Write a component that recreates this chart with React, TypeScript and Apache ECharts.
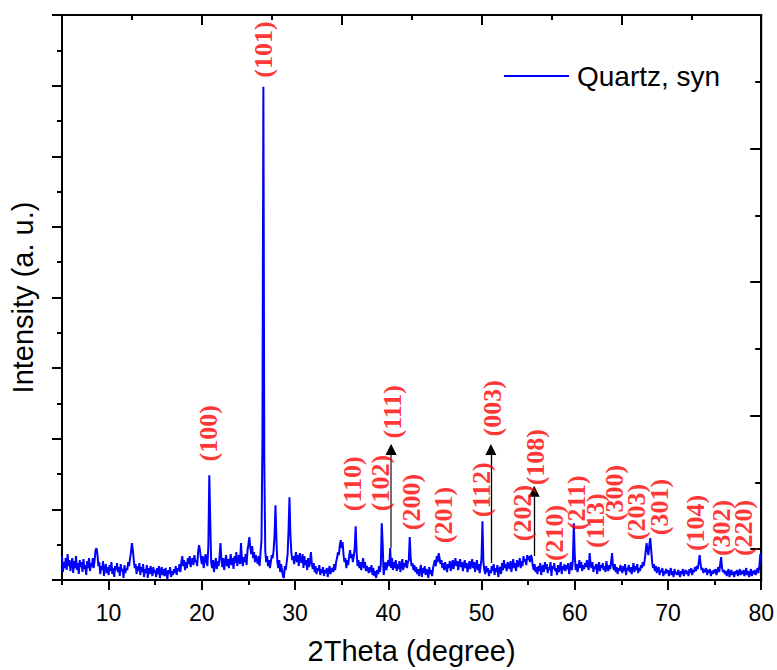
import React, { useEffect, useRef } from "react";
import * as echarts from "echarts";

// 2θ grid of the scan: 5.0° to 80.0° every 0.1°
const START_2THETA = 5;
const STEP_2THETA = 0.1;

// Intensity (a.u.), one row per degree (x.0 ... x.9)
const intensity: number[] = [
  24, 8, 18, 12, 22, 10, 26, 14, 20, 9, // 5
  16, 22, 7, 19, 12, 24, 10, 17, 6, 20, // 6
  13, 18, 8, 21, 11, 15, 5, 19, 12, 22, // 7
  9, 17, 13, 22, 12, 20, 30, 32, 26, 14, // 8
  18, 6, 14, 10, 19, 4, 12, 16, 7, 13, // 9
  5, 15, 9, 18, 6, 12, 3, 14, 10, 17, // 10
  8, 13, 4, 16, 9, 11, 2, 15, 7, 12, // 11
  10, 18, 14, 22, 28, 37, 30, 20, 12, 16, // 12
  6, 14, 9, 17, 5, 13, 8, 16, 3, 11, // 13
  7, 15, 2, 12, 6, 14, 9, 4, 13, 7, // 14
  10, 3, 12, 6, 14, 2, 9, 13, 5, 11, // 15
  4, 12, 7, 1, 10, 6, 13, 3, 9, 5, // 16
  11, 7, 14, 5, 12, 9, 16, 8, 18, 24, // 17
  14, 20, 10, 18, 12, 22, 16, 24, 13, 19, // 18
  22, 15, 25, 18, 20, 14, 28, 35, 30, 22, // 19
  16, 24, 12, 20, 26, 18, 14, 35, 105, 60, // 20
  18, 12, 20, 8, 16, 22, 11, 19, 14, 24, // 21
  37, 20, 13, 22, 10, 18, 25, 14, 21, 12, // 22
  19, 26, 15, 22, 11, 24, 17, 28, 14, 21, // 23
  25, 16, 37, 20, 14, 23, 18, 26, 15, 30, // 24
  36, 43, 32, 26, 34, 22, 28, 18, 25, 20, // 25
  16, 24, 14, 28, 40, 140, 495, 120, 30, 18, // 26
  24, 14, 20, 12, 18, 25, 22, 30, 45, 75, // 27
  40, 18, 12, 20, 8, 16, 10, 4, 2, 14, // 28
  10, 18, 26, 50, 83, 45, 28, 20, 24, 16, // 29
  22, 28, 18, 25, 14, 27, 20, 17, 26, 12, // 30
  24, 15, 20, 10, 22, 13, 18, 28, 16, 11, // 31
  17, 8, 14, 6, 12, 9, 15, 5, 11, 7, // 32
  13, 4, 10, 7, 12, 3, 9, 14, 6, 10, // 33
  12, 8, 16, 10, 18, 22, 28, 25, 35, 40, // 34
  32, 38, 25, 18, 22, 12, 20, 15, 24, 30, // 35
  22, 26, 18, 24, 32, 54, 28, 14, 20, 12, // 36
  18, 10, 16, 22, 12, 18, 9, 14, 11, 7, // 37
  13, 8, 15, 5, 12, 4, 9, 2, 10, 6, // 38
  14, 8, 16, 57, 35, 5, 12, 18, 10, 15, // 39
  20, 14, 32, 12, 22, 10, 18, 12, 20, 9, // 40
  16, 11, 19, 8, 15, 21, 10, 17, 13, 20, // 41
  12, 18, 20, 43, 22, 14, 17, 10, 15, 8, // 42
  13, 6, 11, 4, 10, 15, 3, 12, 7, 14, // 43
  5, 11, 8, 2, 13, 6, 10, 4, 12, 16, // 44
  20, 14, 24, 18, 27, 22, 16, 20, 12, 17, // 45
  10, 18, 13, 8, 16, 12, 19, 9, 14, 20, // 46
  11, 17, 22, 14, 19, 10, 16, 21, 13, 18, // 47
  9, 15, 20, 12, 17, 8, 14, 19, 11, 16, // 48
  21, 12, 18, 8, 15, 20, 10, 16, 7, 14, // 49
  22, 59, 18, 10, 6, 14, 8, 12, 4, 10, // 50
  7, 14, 9, 16, 5, 12, 8, 15, 3, 11, // 51
  13, 6, 17, 10, 20, 12, 16, 9, 18, 14, // 52
  11, 19, 8, 15, 21, 12, 17, 9, 20, 13, // 53
  16, 22, 12, 19, 14, 24, 18, 21, 15, 25, // 54
  20, 24, 18, 25, 22, 14, 10, 16, 8, 13, // 55
  6, 14, 9, 17, 5, 12, 15, 8, 18, 11, // 56
  16, 7, 13, 10, 18, 4, 14, 11, 17, 9, // 57
  12, 5, 15, 8, 13, 18, 6, 14, 10, 16, // 58
  9, 15, 11, 17, 6, 13, 18, 10, 20, 57, // 59
  25, 10, 16, 8, 14, 20, 12, 18, 9, 15, // 60
  11, 17, 13, 20, 14, 10, 27, 16, 12, 18, // 61
  8, 14, 11, 16, 6, 13, 18, 9, 15, 12, // 62
  17, 10, 14, 8, 19, 12, 9, 15, 11, 18, // 63
  27, 14, 10, 16, 8, 13, 6, 12, 9, 15, // 64
  11, 7, 14, 9, 16, 5, 12, 10, 15, 8, // 65
  13, 6, 11, 17, 8, 14, 10, 16, 7, 12, // 66
  9, 15, 12, 18, 14, 20, 28, 37, 30, 25, // 67
  35, 42, 30, 18, 12, 16, 9, 14, 7, 11, // 68
  13, 5, 10, 8, 12, 4, 9, 6, 11, 7, // 69
  10, 4, 8, 12, 5, 9, 3, 11, 6, 8, // 70
  5, 10, 7, 3, 9, 6, 11, 4, 8, 10, // 71
  6, 9, 4, 11, 7, 12, 5, 10, 8, 13, // 72
  9, 14, 11, 18, 25, 16, 10, 12, 7, 11, // 73
  8, 12, 5, 10, 7, 11, 4, 9, 6, 10, // 74
  7, 11, 5, 9, 13, 8, 16, 23, 12, 8, // 75
  10, 6, 9, 4, 8, 11, 3, 7, 10, 5, // 76
  8, 3, 9, 6, 10, 4, 7, 11, 5, 9, // 77
  6, 10, 4, 8, 12, 5, 9, 3, 7, 11, // 78
  4, 9, 6, 10, 5, 8, 12, 7, 14, 26, // 79
  22, // 80
];

// Miller-index annotations: text, 2θ position, intensity at the foot of the label
const peakLabels = [
  "(100)", "(101)", "(110)", "(102)", "(111)", "(200)", "(201)", "(112)", "(003)", "(202)",
  "(108)", "(210)", "(211)", "(113)", "(300)", "(203)", "(301)", "(104)", "(302)", "(220)",
];
const peakLabelTheta = [
  20.75, 26.6, 36.2, 39.2, 40.5, 42.5, 45.9, 49.95, 51.15, 54.35,
  55.8, 57.8, 60.15, 62.25, 64.3, 66.65, 69.05, 72.9, 75.7, 78.05,
];
const peakLabelBase = [
  119, 504, 69, 69, 142, 50, 37, 63, 144, 39,
  95, 19, 50, 32, 59, 40, 45, 29, 24, 24,
];

// Arrows: 2θ, start intensity, end intensity (arrow tip)
const arrowTheta = [40.3, 51.0, 55.65];
const arrowFrom = [32, 17, 24];
const arrowTo = [131, 131, 89];

const majorXTicks = [10, 20, 30, 40, 50, 60, 70, 80];

export default function App() {
  const ref = useRef<HTMLDivElement>(null);

  useEffect(() => {
    if (!ref.current) return;
    document.documentElement.style.overflow = "hidden";
    document.body.style.overflow = "hidden";
    document.body.style.margin = "0";
    const chart = echarts.init(ref.current, null, { renderer: "svg" });

    const curve = intensity.map((v, i) => [
      Math.round((START_2THETA + i * STEP_2THETA) * 10) / 10,
      v,
    ]);
    const labelData = peakLabels.map((t, i) => [peakLabelTheta[i], peakLabelBase[i], t]);

    const black = "#000";
    const axisLineStyle = { color: black, width: 2 };
    const sans = "'Liberation Sans', Arial, sans-serif";

    chart.setOption({
      animation: false,
      backgroundColor: "#fff",
      grid: {
        left: 62,
        right: 12,
        top: 15,
        bottom: 88,
        show: true,
        borderColor: black,
        borderWidth: 2,
        backgroundColor: "transparent",
      },
      legend: {
        data: [{ name: "Quartz, syn", icon: "rect" }],
        left: 504,
        top: 62,
        padding: 0,
        itemWidth: 65,
        itemHeight: 2,
        selectedMode: false,
        textStyle: { fontSize: 28, fontFamily: sans, color: black, padding: [0, 0, 0, 3] },
      },
      xAxis: [
        {
          type: "value",
          min: 5,
          max: 80,
          interval: 5,
          position: "bottom",
          name: "2Theta (degree)",
          nameLocation: "middle",
          nameGap: 56,
          nameTextStyle: { fontSize: 29, fontFamily: sans, color: black },
          axisLine: { show: true, onZero: false, lineStyle: axisLineStyle },
          axisTick: { show: true, length: 5, lineStyle: axisLineStyle },
          axisLabel: { show: false },
          splitLine: { show: false },
        },
        {
          type: "value",
          min: 5,
          max: 80,
          interval: 5,
          position: "bottom",
          axisLine: { show: false, onZero: false },
          axisTick: { show: true, length: 10, lineStyle: axisLineStyle, customValues: majorXTicks },
          axisLabel: {
            show: true,
            customValues: majorXTicks,
            margin: 21,
            fontSize: 23,
            fontFamily: sans,
            color: black,
          },
          splitLine: { show: false },
        },
        {
          type: "value",
          min: 0,
          max: 10,
          interval: 2,
          position: "top",
          axisLine: { show: true, onZero: false, lineStyle: axisLineStyle },
          axisTick: { show: true, inside: true, length: 10, lineStyle: axisLineStyle },
          minorTick: { show: true, splitNumber: 2, length: 5, lineStyle: axisLineStyle },
          axisLabel: { show: false },
          splitLine: { show: false },
        },
      ],
      yAxis: [
        {
          type: "value",
          min: 0,
          max: 567,
          interval: 70.875,
          position: "left",
          name: "Intensity (a. u.)",
          nameLocation: "middle",
          nameGap: 25,
          nameTextStyle: { fontSize: 29, fontFamily: sans, color: black },
          axisLine: { show: true, onZero: false, lineStyle: axisLineStyle },
          axisTick: { show: true, length: 10, lineStyle: axisLineStyle },
          minorTick: { show: true, splitNumber: 2, length: 5, lineStyle: axisLineStyle },
          axisLabel: { show: false },
          splitLine: { show: false },
        },
        {
          type: "value",
          min: 0,
          max: 8.463,
          interval: 2,
          inverse: true,
          position: "right",
          axisLine: { show: true, onZero: false, lineStyle: axisLineStyle },
          axisTick: { show: true, inside: true, length: 11, lineStyle: axisLineStyle },
          minorTick: { show: true, splitNumber: 2, length: 6, lineStyle: axisLineStyle },
          axisLabel: { show: false },
          splitLine: { show: false },
        },
      ],
      series: [
        {
          name: "Quartz, syn",
          type: "line",
          xAxisIndex: 0,
          yAxisIndex: 0,
          data: curve,
          symbol: "none",
          lineStyle: { color: "#0000ff", width: 2 },
          itemStyle: { color: "#0000ff" },
          z: 3,
        },
        {
          type: "lines",
          coordinateSystem: "cartesian2d",
          xAxisIndex: 0,
          yAxisIndex: 0,
          symbol: ["none", "triangle"],
          symbolSize: 11,
          silent: true,
          z: 4,
          data: arrowTheta.map((t, i) => ({
            coords: [
              [t, arrowFrom[i]],
              [t, arrowTo[i]],
            ],
            lineStyle:
              i === 0
                ? { color: "#6e6e6e", width: 2, opacity: 1 }
                : { color: black, width: 1.3, opacity: 1 },
          })),
        },
        {
          type: "lines",
          coordinateSystem: "cartesian2d",
          xAxisIndex: 0,
          yAxisIndex: 0,
          symbol: ["none", "triangle"],
          symbolSize: 11,
          silent: true,
          z: 5,
          lineStyle: { color: black, width: 1, opacity: 1 },
          data: [
            {
              coords: [
                [arrowTheta[0], arrowTo[0] - 3],
                [arrowTheta[0], arrowTo[0]],
              ],
            },
          ],
        },
        {
          type: "scatter",
          xAxisIndex: 0,
          yAxisIndex: 0,
          data: labelData,
          symbol: "circle",
          symbolSize: 1,
          itemStyle: { color: "rgba(0,0,0,0)" },
          silent: true,
          z: 6,
          label: {
            show: true,
            position: "inside",
            rotate: 90,
            align: "left",
            verticalAlign: "middle",
            formatter: (p: any) => p.data[2],
            color: "#ff0000",
            fontSize: 26,
            fontWeight: "bold",
            fontFamily: "'Liberation Serif', 'Times New Roman', serif",
          },
        },
      ],
    });

    return () => chart.dispose();
  }, []);

  return (
    <div
      ref={ref}
      style={{ position: "fixed", left: 0, top: 0, width: 777, height: 670, background: "#fff" }}
    />
  );
}
